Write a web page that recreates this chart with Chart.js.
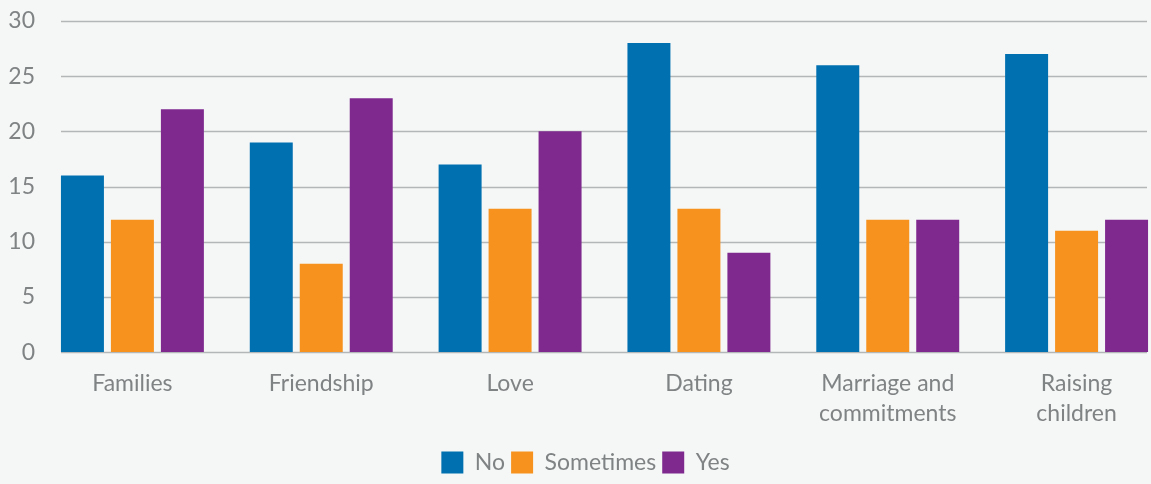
<!DOCTYPE html>
<html lang="en">
<head>
    <meta charset="UTF-8">
    <title>Responses by topic</title>
    <script src="https://cdn.jsdelivr.net/npm/chart.js@4.4.0/dist/chart.umd.min.js"></script>
    <style>
        html, body {
            margin: 0;
            padding: 0;
            background: #f4f7f6;
            overflow: hidden;
        }
        #chartContainer {
            position: relative;
            width: 1180px;
            height: 484px;
        }
    </style>
</head>
<body>
    <div id="chartContainer">
        <canvas id="topicChart"></canvas>
    </div>

    <script>
        const categories = ['Families', 'Friendship', 'Love', 'Dating', ['Marriage and', 'commitments'], ['Raising', 'children']];
        const noValues = [16, 19, 17, 28, 26, 27];
        const sometimesValues = [12, 8, 13, 13, 12, 11];
        const yesValues = [22, 23, 20, 9, 12, 12];
        const yTicks = [0, 5, 10, 15, 20, 25, 30];

        const textColor = '#808384';
        const font = { family: 'Lato, "Open Sans", sans-serif', size: 23 };

        // horizontal grid lines, drawn a bit narrower than the chart area
        const gridLines = {
            id: 'gridLines',
            beforeDatasetsDraw(chart) {
                const ctx = chart.ctx;
                const y = chart.scales.y;
                ctx.save();
                ctx.strokeStyle = '#b4b7b7';
                ctx.lineWidth = 1.5;
                yTicks.forEach(t => {
                    const py = Math.round(y.getPixelForValue(t)) + 0.5;
                    ctx.beginPath();
                    ctx.moveTo(61, py);
                    ctx.lineTo(1147, py);
                    ctx.stroke();
                });
                ctx.restore();
            }
        };

        const ctx = document.getElementById('topicChart').getContext('2d');
        new Chart(ctx, {
            type: 'bar',
            data: {
                labels: categories,
                datasets: [{
                    label: 'No',
                    data: noValues,
                    backgroundColor: '#0070b1'
                }, {
                    label: 'Sometimes',
                    data: sometimesValues,
                    backgroundColor: '#f7921e'
                }, {
                    label: 'Yes',
                    data: yesValues,
                    backgroundColor: '#7f298f'
                }]
            },
            options: {
                responsive: true,
                maintainAspectRatio: false,
                animation: false,
                categoryPercentage: 0.794,
                barPercentage: 0.86,
                layout: {
                    padding: { top: 21, right: 9, left: 0, bottom: 0 }
                },
                plugins: {
                    legend: {
                        position: 'bottom',
                        labels: {
                            boxWidth: 22,
                            boxHeight: 22,
                            color: textColor,
                            font: font,
                            padding: 6
                        }
                    },
                    tooltip: { enabled: false }
                },
                scales: {
                    x: {
                        grid: { display: false, drawTicks: false },
                        border: { display: false },
                        ticks: {
                            color: textColor,
                            font: { ...font, lineHeight: 1.28 },
                            padding: 17,
                            maxRotation: 0,
                            autoSkip: false
                        }
                    },
                    y: {
                        min: 0,
                        max: 30,
                        afterFit(scale) { scale.width = 38; },
                        afterBuildTicks(scale) { scale.ticks = yTicks.map(v => ({ value: v })); },
                        grid: { display: false, drawTicks: false },
                        border: { display: false },
                        ticks: {
                            color: textColor,
                            font: font,
                            padding: 3
                        }
                    }
                }
            },
            plugins: [gridLines]
        });
    </script>
</body>
</html>
